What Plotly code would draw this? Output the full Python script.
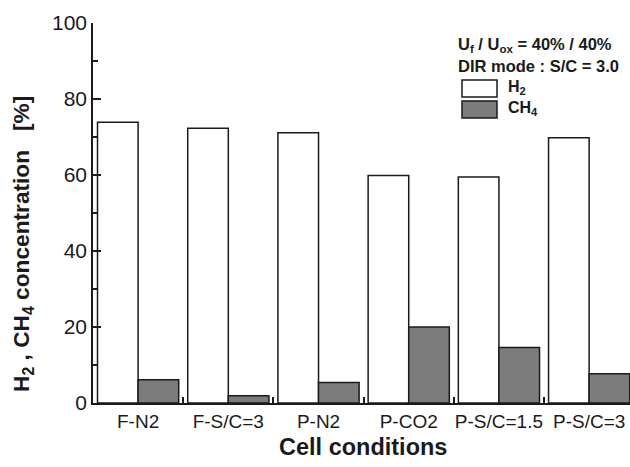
import plotly.graph_objects as go

categories = ["F-N2", "F-S/C=3", "P-N2", "P-CO2", "P-S/C=1.5", "P-S/C=3"]
h2_values = [73.9, 72.3, 71.1, 59.9, 59.5, 69.8]
ch4_values = [6.1, 1.9, 5.4, 20.0, 14.6, 7.7]
y_ticks = [0, 20, 40, 60, 80, 100]

FONT = "Liberation Sans, Arial, sans-serif"
INK = "#1a1a1a"

fig = go.Figure()
fig.add_trace(go.Bar(x=categories, y=h2_values, name="H<sub>2</sub>",
                     marker=dict(color="white", line=dict(color=INK, width=1.5)),
                     showlegend=False))
fig.add_trace(go.Bar(x=categories, y=ch4_values, name="CH<sub>4</sub>",
                     marker=dict(color="#7c7c7c", line=dict(color=INK, width=1.5)),
                     showlegend=False))

x_range = [-0.5, 5.453]

tick_common = dict(ticks="inside", tickwidth=1.5, tickcolor=INK, showgrid=False, zeroline=False,
                   automargin=False)

fig.update_layout(
    width=630, height=467,
    margin=dict(l=93, r=0, t=23, b=64, autoexpand=False),
    paper_bgcolor="white", plot_bgcolor="white",
    barmode="group", bargap=0.1, bargroupgap=0,
    font=dict(family=FONT, color=INK),
    xaxis=dict(type="category", range=x_range, showline=True, linecolor=INK, linewidth=1.5,
               tickson="boundaries", ticklen=6, tickangle=0,
               tickfont=dict(size=19, family=FONT, color=INK), **tick_common),
    xaxis2=dict(overlaying="x", side="top", anchor="y", type="linear", range=x_range,
                showline=True, linecolor=INK, linewidth=1.5,
                tickmode="array", tickvals=[0, 1, 2, 3, 4, 5], ticklen=8, showticklabels=False,
                minor=dict(tickvals=[0.5, 1.5, 2.5, 3.5, 4.5], ticks="inside", ticklen=5,
                           tickwidth=1.5, tickcolor=INK), **tick_common),
    yaxis=dict(range=[0, 100], tickvals=y_ticks, showline=True, linecolor=INK, linewidth=1.5,
               ticklen=8,
               minor=dict(dtick=10, ticks="inside", ticklen=5, tickwidth=1.5, tickcolor=INK),
               tickfont=dict(size=21, family=FONT, color=INK), **tick_common),
    yaxis2=dict(overlaying="y", side="right", anchor="x", range=[0, 100], tickvals=y_ticks,
                showline=False, ticklen=8, showticklabels=False,
                minor=dict(dtick=10, ticks="inside", ticklen=5, tickwidth=1.5, tickcolor=INK),
                **tick_common),
)

# axis titles
fig.add_annotation(text="<b>Cell conditions</b>", xref="paper", yref="paper",
                   x=(363 - 93) / 537, y=-(447 - 403) / 380, showarrow=False,
                   font=dict(size=23.5, family=FONT, color=INK), xanchor="center", yanchor="middle")
fig.add_annotation(text="<b>H<sub>2</sub> , CH<sub>4</sub> concentration   [%]</b>",
                   xref="paper", yref="paper", x=-(93 - 23) / 537, y=(403 - 244) / 380,
                   textangle=-90, showarrow=False, xanchor="center", yanchor="middle",
                   font=dict(size=22.7, family=FONT, color=INK))

# condition notes
fig.add_annotation(text="<b>U<sub>f</sub> / U<sub>ox</sub> = 40% / 40%</b>", xref="paper", yref="paper",
                   x=(456 - 93) / 537, y=(403 - 45) / 380, showarrow=False, xanchor="left",
                   yanchor="middle", font=dict(size=16.5, family=FONT, color=INK))
fig.add_annotation(text="<b>DIR mode : S/C = 3.0</b>", xref="paper", yref="paper",
                   x=(456 - 93) / 537, y=(403 - 66) / 380, showarrow=False, xanchor="left",
                   yanchor="middle", font=dict(size=16.5, family=FONT, color=INK))

# legend (manual)
legend_items = [("H<sub>2</sub>", "white", 80, 97), ("CH<sub>4</sub>", "#7c7c7c", 101, 118)]
for label, color, ytop, ybot in legend_items:
    fig.add_shape(type="rect", xref="paper", yref="paper",
                  x0=(462 - 93) / 537, x1=(497 - 93) / 537,
                  y0=(403 - ybot) / 380, y1=(403 - ytop) / 380,
                  fillcolor=color, line=dict(color=INK, width=1.5))
    fig.add_annotation(text="<b>" + label + "</b>", xref="paper", yref="paper",
                       x=(506 - 93) / 537, y=(403 - (ytop + ybot) / 2 + 1) / 380,
                       showarrow=False, xanchor="left", yanchor="middle",
                       font=dict(size=16, family=FONT, color=INK))

fig.write_html("out.html")
